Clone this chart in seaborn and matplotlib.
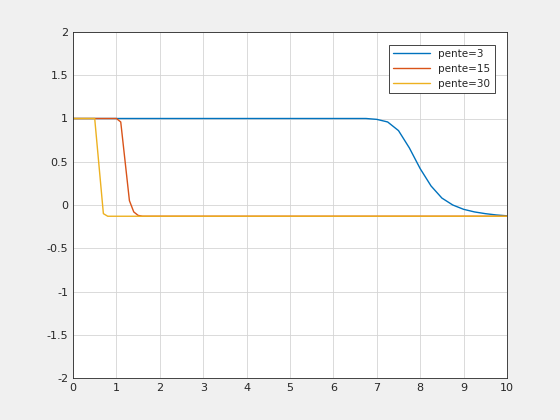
import matplotlib
matplotlib.use('Agg')
import matplotlib.pyplot as plt
import seaborn as sns
import pandas as pd

# values
x_p3 = [0, 1, 2, 3, 4, 5, 6, 6.75, 7, 7.25, 7.5, 7.75, 8, 8.25, 8.5, 8.75, 9, 9.25, 9.5, 9.75, 10]
y_p3 = [1, 1, 1, 1, 1, 1, 1, 1.0, 0.99, 0.96, 0.86, 0.66, 0.42, 0.22, 0.08, 0.0, -0.05, -0.08, -0.1, -0.115, -0.125]
x_p15 = [0, 0.5, 1.0, 1.1, 1.3, 1.4, 1.5, 1.6, 2, 5, 10]
y_p15 = [1, 1, 1, 0.96, 0.05, -0.08, -0.12, -0.13, -0.13, -0.13, -0.13]
x_p30 = [0, 0.5, 0.7, 0.8, 1, 5, 10]
y_p30 = [1, 1, -0.1, -0.13, -0.13, -0.13, -0.13]

series = [('pente=3', x_p3, y_p3, '#0072BD'),
          ('pente=15', x_p15, y_p15, '#D95319'),
          ('pente=30', x_p30, y_p30, '#EDB120')]

sns.set_style('white')
plt.rcParams['font.family'] = ['DejaVu Sans']
fig = plt.figure(figsize=(5.6, 4.2), dpi=100, facecolor='#f0f0f0')
ax = fig.add_axes([73/560, 42/420, 434/560, 346/420])
for name, xs, ys, c in series:
    df = pd.DataFrame({'x': xs, 'y': ys})
    sns.lineplot(data=df, x='x', y='y', ax=ax, color=c, lw=1, label=name,
                 sort=False, estimator=None)
ax.set_xlim(0, 10)
ax.set_ylim(-2, 2)
ax.set_xticks(range(0, 11))
ax.set_yticks([-2, -1.5, -1, -0.5, 0, 0.5, 1, 1.5, 2])
ax.set_yticklabels(['-2', '-1.5', '-1', '-0.5', '0', '0.5', '1', '1.5', '2'])
ax.set_xlabel('')
ax.set_ylabel('')
ax.grid(True, color='#d4d4d4', lw=0.6)
ax.tick_params(labelsize=8, length=3, direction='in', colors='#262626')
for s in ax.spines.values():
    s.set_color('#262626')
    s.set_linewidth(0.6)
leg = ax.legend(loc='upper right', fontsize=7.5, fancybox=False, framealpha=1,
                edgecolor='#262626', borderaxespad=1.2, handlelength=3.5)
leg.get_frame().set_linewidth(0.6)
fig.savefig('out.png', dpi=100, facecolor=fig.get_facecolor())
